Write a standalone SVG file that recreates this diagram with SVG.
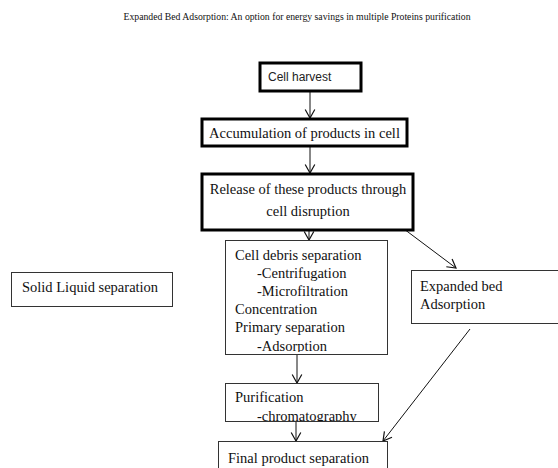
<svg xmlns="http://www.w3.org/2000/svg" width="558" height="468" viewBox="0 0 558 468">
<defs>
<style>
.t{font-family:"Liberation Serif","Times New Roman",serif;font-size:14.5px;fill:#111}
.s{font-family:"Liberation Sans",Arial,sans-serif;font-size:12px;fill:#222}
.title{font-family:"Liberation Serif","Times New Roman",serif;font-size:9.6px;fill:#111}
.thick{fill:#fff;stroke:#000;stroke-width:3}
.thin{fill:#fff;stroke:#333;stroke-width:1}
.c{fill:none;stroke:#111;stroke-width:1}
</style>
<marker id="ah" markerUnits="userSpaceOnUse" markerWidth="12" markerHeight="12" viewBox="0 0 12 12" refX="10" refY="6" orient="auto">
<path d="M1.5,1.2 L10,6 L1.5,10.8" fill="none" stroke="#111" stroke-width="1.2"/>
</marker>
<clipPath id="cd"><rect x="225" y="240" width="162" height="112"/></clipPath>
<clipPath id="pu"><rect x="225" y="383" width="154" height="38"/></clipPath>
</defs>
<rect width="558" height="468" fill="#fff"/>
<text class="title" x="297" y="20" text-anchor="middle" textLength="347" lengthAdjust="spacingAndGlyphs">Expanded Bed Adsorption: An option for energy savings in multiple Proteins purification</text>
<g id="connectors">
<line class="c" x1="310" y1="91" x2="310" y2="118" marker-end="url(#ah)"/>
<line class="c" x1="310" y1="147" x2="310" y2="173" marker-end="url(#ah)"/>
<line class="c" x1="309" y1="231" x2="309" y2="240" marker-end="url(#ah)"/>
<line class="c" x1="404" y1="229" x2="456" y2="268" marker-end="url(#ah)"/>
<line class="c" x1="297" y1="355" x2="297" y2="383" marker-end="url(#ah)"/>
<line class="c" x1="296" y1="422" x2="296" y2="441" marker-end="url(#ah)"/>
<line class="c" x1="470" y1="329" x2="383" y2="441" marker-end="url(#ah)"/>
</g>
<g id="cell-harvest">
<rect class="thick" x="260" y="63" width="101" height="28"/>
<text class="s" x="268" y="81">Cell harvest</text>
</g>
<g id="accumulation">
<rect class="thick" x="202" y="119" width="205" height="27"/>
<text class="t" x="304.5" y="137.5" text-anchor="middle">Accumulation of products in cell</text>
</g>
<g id="release">
<rect class="thick" x="202" y="174" width="211" height="56"/>
<text class="t" x="308" y="194" text-anchor="middle">Release of these products through</text>
<text class="t" x="308" y="216" text-anchor="middle">cell disruption</text>
</g>
<g id="cell-debris">
<rect class="thin" x="225.5" y="240.5" width="162" height="114"/>
<g clip-path="url(#cd)">
<text class="t" x="235" y="260">Cell debris separation</text>
<text class="t" x="257" y="278">-Centrifugation</text>
<text class="t" x="257" y="296">-Microfiltration</text>
<text class="t" x="235" y="314">Concentration</text>
<text class="t" x="235" y="332">Primary separation</text>
<text class="t" x="257" y="350.5">-Adsorption</text>
</g>
</g>
<g id="solid-liquid">
<rect class="thin" x="11.5" y="272.5" width="161" height="34"/>
<text class="t" x="22" y="292">Solid Liquid separation</text>
</g>
<g id="expanded-bed">
<rect class="thin" x="411.5" y="270.5" width="150" height="53"/>
<text class="t" x="420" y="291">Expanded bed</text>
<text class="t" x="420" y="309">Adsorption</text>
</g>
<g id="purification">
<rect class="thin" x="225.5" y="383.5" width="153" height="38"/>
<g clip-path="url(#pu)">
<text class="t" x="235" y="402">Purification</text>
<text class="t" x="257" y="420.5">-chromatography</text>
</g>
</g>
<g id="final">
<rect class="thin" x="218.5" y="441.5" width="169" height="40"/>
<text class="t" x="228" y="463">Final product separation</text>
</g>
</svg>
